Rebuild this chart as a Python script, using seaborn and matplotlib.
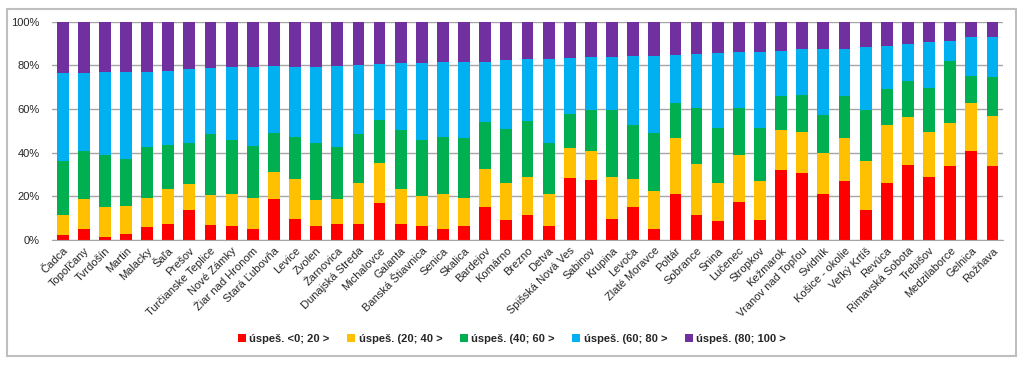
import numpy as np
import pandas as pd
import matplotlib
matplotlib.use("Agg")
import matplotlib.pyplot as plt
from matplotlib.patches import Patch, Rectangle
import seaborn as sns

districts = [
    "Čadca", "Topoľčany", "Tvrdošín", "Martin", "Malacky", "Šaľa", "Prešov",
    "Turčianske Teplice", "Nové Zámky", "Žiar nad Hronom", "Stará Ľubovňa",
    "Levice", "Zvolen", "Žarnovica", "Dunajská Streda", "Michalovce", "Galanta",
    "Banská Štiavnica", "Senica", "Skalica", "Bardejov", "Komárno", "Brezno",
    "Detva", "Spišská Nová Ves", "Sabinov", "Krupina", "Levoča", "Zlaté Moravce",
    "Poltár", "Sobrance", "Snina", "Lučenec", "Stropkov", "Kežmarok",
    "Vranov nad Topľou", "Svidník", "Košice - okolie", "Veľký Krtíš", "Revúca",
    "Rimavská Sobota", "Trebišov", "Medzilaborce", "Gelnica", "Rožňava",
]

# share of pupils (%) in each success band
band_0_20 = [2.3, 4.9, 1.4, 2.9, 5.8, 7.5, 13.7, 6.9, 6.6, 4.9, 18.9, 9.8, 6.3, 7.6, 7.6,
             17.1, 7.3, 6.3, 5.3, 6.3, 15.4, 9.2, 11.6, 6.4, 28.5, 27.5, 9.9, 15.1, 5.3,
             20.9, 11.6, 8.9, 17.6, 9.3, 31.9, 30.5, 20.9, 27.2, 14.0, 26.3, 34.4, 29.0,
             34.0, 40.6, 34.0]
band_20_40 = [9.3, 14.0, 13.6, 12.7, 13.7, 16.0, 11.8, 13.7, 14.6, 14.5, 12.4, 18.1, 12.3,
              11.3, 18.4, 18.2, 16.1, 13.9, 15.9, 13.1, 17.0, 16.8, 17.4, 14.8, 13.5, 13.1,
              19.0, 13.0, 17.3, 26.0, 23.1, 17.4, 21.3, 17.6, 18.5, 18.8, 19.1, 19.4, 22.2,
              26.2, 22.1, 20.6, 19.6, 22.3, 22.8]
band_40_60 = [24.4, 21.7, 23.8, 21.3, 22.9, 19.9, 19.1, 28.1, 24.8, 23.8, 17.7, 19.4, 25.7,
              23.8, 22.7, 19.7, 27.0, 25.6, 26.0, 27.5, 21.6, 24.8, 25.5, 23.2, 15.6, 19.1,
              30.8, 24.7, 26.3, 15.7, 25.8, 24.8, 21.7, 24.6, 15.4, 17.0, 17.1, 19.2, 23.3,
              16.8, 16.5, 20.2, 28.4, 12.1, 17.7]
band_60_80 = [40.5, 35.9, 38.0, 39.9, 34.5, 33.9, 33.6, 30.1, 33.2, 36.2, 30.5, 32.1, 35.1,
              37.1, 31.3, 25.8, 30.7, 35.4, 34.2, 34.5, 27.5, 31.5, 28.4, 38.5, 25.9, 24.3,
              24.3, 31.3, 35.4, 22.1, 24.8, 34.5, 25.4, 34.6, 20.5, 21.2, 30.5, 21.8, 28.7,
              19.7, 16.9, 20.9, 9.1, 17.8, 18.6]
band_80_100 = [23.5, 23.5, 23.2, 23.2, 23.1, 22.7, 21.8, 21.2, 20.8, 20.6, 20.5, 20.6, 20.6,
               20.2, 20.0, 19.2, 18.9, 18.8, 18.6, 18.6, 18.5, 17.7, 17.1, 17.1, 16.5, 16.0,
               16.0, 15.9, 15.7, 15.3, 14.7, 14.4, 14.0, 13.9, 13.7, 12.5, 12.4, 12.4, 11.8,
               11.0, 10.1, 9.3, 8.9, 7.2, 6.9]

band_labels = ["úspeš. <0; 20 >", "úspeš. (20; 40 >", "úspeš. (40; 60 >",
               "úspeš. (60; 80 >", "úspeš. (80; 100 >"]
band_colors = ["#FF0000", "#FFC000", "#00B050", "#00B0F0", "#7030A0"]

df = pd.DataFrame({
    "district": districts,
    band_labels[0]: band_0_20,
    band_labels[1]: band_20_40,
    band_labels[2]: band_40_60,
    band_labels[3]: band_60_80,
    band_labels[4]: band_80_100,
})

sns.set_style("white")
plt.rcParams["font.family"] = ["Liberation Sans", "DejaVu Sans"]

fig = plt.figure(figsize=(10.24, 3.65), dpi=100)
ax = fig.add_axes([0.0508, 0.342, 0.9287, 0.599])

bottom = np.zeros(len(df))
for label, color in zip(band_labels, band_colors):
    sns.barplot(data=df, x="district", y=label, color=color, width=0.56,
                bottom=bottom, errorbar=None, linewidth=0, saturation=1, ax=ax)
    bottom = bottom + df[label].to_numpy()

ax.set_ylim(0, 100)
ax.set_xlim(-0.5, len(df) - 0.5)
ax.set_yticks(range(0, 101, 20))
ax.set_yticklabels([f"{v}%" for v in range(0, 101, 20)])
ax.yaxis.grid(True, color="#A6A6A6", linewidth=1)
ax.set_axisbelow(True)
ax.set_xlabel("")
ax.set_ylabel("")
for s in ["left", "right", "top"]:
    ax.spines[s].set_visible(False)
ax.spines["bottom"].set_color("#A6A6A6")
ax.tick_params(axis="y", length=0, pad=9, labelsize=8)
ax.tick_params(axis="x", length=0, pad=4, labelsize=8)
plt.setp(ax.get_xticklabels(), rotation=45, ha="right", rotation_mode="anchor")

handles = [Patch(facecolor=c, edgecolor="none", label=l) for l, c in zip(band_labels, band_colors)]
fig.legend(handles=handles, loc="center", bbox_to_anchor=(0.5, 0.071), ncol=5,
           frameon=False, handlelength=0.7, handleheight=0.7, handletextpad=0.3,
           columnspacing=1.6, prop={"size": 8, "weight": "bold"})

fig.patches.append(Rectangle((7 / 1024, 1 - 356 / 365), 1009 / 1024, 347 / 365,
                             transform=fig.transFigure, fill=False,
                             edgecolor="#BFBFBF", linewidth=1.5))

fig.savefig("out.png", dpi=100)
